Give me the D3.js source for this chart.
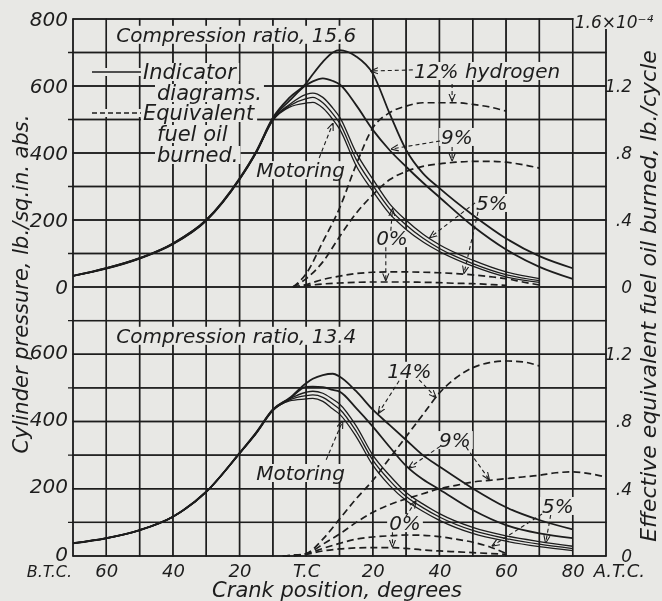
<!DOCTYPE html>
<html>
<head>
<meta charset="utf-8">
<script src="https://cdn.jsdelivr.net/npm/d3@7"></script>
<style>
  html, body { margin: 0; padding: 0; background: #e8e8e5; }
  #chart { position: relative; width: 662px; height: 601px; }
  #chart canvas, #chart svg { position: absolute; left: 0; top: 0; display: block; }
  text { font-family: "DejaVu Sans", sans-serif; font-style: italic; fill: #1d1d1d; }
</style>
</head>
<body>
<div id="chart"></div>
<script>
// crank angle, degrees (negative = before top centre)
const crankDeg = [-70,-60,-50,-40,-30,-20,-15,-10,-5,0,2,5,8,10,15,20,25,30,35,40,50,60,70,80];

// compression ratio 15.6 - indicator diagrams, lb./sq.in. abs.
const hi_motoring = [33,54,84,127,197,320,400,497,537,549,551,534,500,472,362,286,219,172,135,106,62,30,14,null];
const hi_h0  = [33,55,85,128,198,321,401,499,541,562,566,550,517,490,381,303,234,185,146,115,70,37,19,null];
const hi_h5  = [33,56,86,130,199,322,402,500,545,575,579,566,534,508,401,322,249,199,158,126,80,45,25,null];
const hi_h9  = [33,56,86,130,200,324,404,503,556,603,614,623,615,605,543,469,409,359,312,268,182,112,60,24];
const hi_h12 = [33,56,86,130,200,324,405,505,565,608,635,672,700,707,688,637,519,409,340,295,215,145,92,56];

// compression ratio 13.4 - indicator diagrams
const lo_motoring = [37,52,76,116,190,304,364,432,461,467,469,460,437,422,355,270,210,165,133,106,67,44,28,16];
const lo_h0  = [38,53,77,117,191,305,365,433,464,477,479,472,452,437,371,285,225,177,144,116,76,52,35,22];
const lo_h5  = [38,53,77,117,191,306,366,434,467,487,490,484,466,452,387,300,240,189,155,126,85,60,43,29];
const lo_h9  = [38,53,77,117,191,306,367,435,468,503,504,502,494,489,440,385,325,268,228,198,137,92,67,53];
const lo_h14 = [38,53,77,117,191,306,367,436,470,514,527,538,542,534,490,435,390,345,300,266,201,145,107,79];

// equivalent fuel oil burned, 10^-4 lb./cycle
const fuelDeg = [-7,-4,0,5,10,15,20,25,30,35,40,45,50,55,60,65,70,75,80,85,90];
const hiFuel_h0  = [null,0,0.008,0.018,0.024,0.028,0.03,0.03,0.03,0.028,0.026,0.022,0.02,0.015,0.01,null,null,null,null,null,null];
const hiFuel_h5  = [null,0,0.015,0.045,0.065,0.08,0.088,0.09,0.09,0.088,0.085,0.08,0.072,0.062,0.05,0.03,0.012,null,null,null,null];
const hiFuel_h9  = [null,0,0.05,0.15,0.30,0.44,0.55,0.64,0.69,0.72,0.735,0.745,0.75,0.75,0.745,0.73,0.71,null,null,null,null];
const hiFuel_h12 = [null,0,0.08,0.27,0.47,0.73,0.95,1.04,1.08,1.10,1.10,1.10,1.09,1.075,1.05,null,null,null,null,null,null];

const loFuel_h0  = [0,0.003,0.01,0.03,0.042,0.048,0.05,0.05,0.045,0.036,0.03,0.025,0.02,0.015,0.01,null,null,null,null,null,null];
const loFuel_h5  = [0,0.003,0.012,0.045,0.075,0.1,0.113,0.12,0.125,0.123,0.115,0.1,0.082,0.055,0.015,null,null,null,null,null,null];
const loFuel_h9  = [0,0.003,0.012,0.07,0.13,0.2,0.26,0.305,0.34,0.37,0.40,0.42,0.44,0.45,0.46,0.47,0.48,0.495,0.50,0.49,0.47];
const loFuel_h14 = [0,0.003,0.015,0.1,0.22,0.34,0.45,0.58,0.71,0.84,0.97,1.06,1.12,1.15,1.16,1.155,1.13,null,null,null,null];

// tick labels
const xTickVals = [-60,-40,-20,0,20,40,60,80];
const xTickLabels = ["60","40","20","T.C","20","40","60","80"];
const xEndLabels = ["B.T.C.","A.T.C."];
const pressTicks = [0,200,400,600,800];
const pressTicksLow = [0,200,400,600];
const fuelTicks = [0,0.4,0.8,1.2];
const fuelTickLabels = ["0",".4",".8","1.2"];
const fuelTopLabel = "1.6×10⁻⁴";

const W = 662, H = 601;
const ink = "#1d1d1d", paper = "#e8e8e5";

const x = d3.scaleLinear().domain([-70, 90]).range([73, 606]);
const yHi = d3.scaleLinear().domain([0, 800]).range([287, 19]);
const yLo = d3.scaleLinear().domain([0, 800]).range([556, 287]);
const fHi = d3.scaleLinear().domain([0, 1.6]).range([287, 19]);
const fLo = d3.scaleLinear().domain([0, 1.6]).range([556, 287]);

const plotTop = yHi(800), plotBottom = yLo(0), plotLeft = x(-70), plotRight = x(90);
const gridDeg = d3.range(-70, 91, 10);
const gridHi = d3.range(0, 801, 100);
const gridLo = d3.range(0, 701, 100);
const tickOnly = [100, 300, 500, 700];

// paper and grid on a canvas underneath the svg
const canvas = d3.select("#chart").append("canvas")
    .attr("width", W).attr("height", H);
const ctx = canvas.node().getContext("2d");
ctx.fillStyle = paper;
ctx.fillRect(0, 0, W, H);
ctx.strokeStyle = ink;
ctx.lineWidth = 1.4;
ctx.beginPath();
gridDeg.forEach(function(d) {
    ctx.moveTo(x(d), plotTop);
    ctx.lineTo(x(d), plotBottom);
});
gridHi.forEach(function(v) {
    ctx.moveTo(plotLeft, yHi(v));
    ctx.lineTo(plotRight, yHi(v));
});
gridLo.forEach(function(v) {
    ctx.moveTo(plotLeft, yLo(v));
    ctx.lineTo(plotRight, yLo(v));
});
[yHi, yLo].forEach(function(ys) {
    tickOnly.forEach(function(v) {
        ctx.moveTo(plotLeft - 5, ys(v));
        ctx.lineTo(plotLeft, ys(v));
    });
});
ctx.stroke();

const svg = d3.select("#chart").append("svg")
    .attr("width", W)
    .attr("height", H);

const defs = svg.append("defs");
defs.append("marker")
    .attr("id", "arrow")
    .attr("viewBox", "0 0 10 10")
    .attr("refX", 9).attr("refY", 5)
    .attr("markerWidth", 7).attr("markerHeight", 7)
    .attr("orient", "auto")
    .append("path")
    .attr("d", "M0,1 L10,5 L0,9")
    .attr("fill", "none")
    .attr("stroke", ink)
    .attr("stroke-width", 1.4);

// grid again in the svg, as thin rects
const gw = 1.4;
const gridLayer = svg.append("g");
gridLayer.selectAll(null)
    .data(gridDeg)
    .enter().append("rect")
    .attr("x", d => x(d) - gw / 2).attr("y", plotTop - gw / 2)
    .attr("width", gw).attr("height", plotBottom - plotTop + gw)
    .attr("fill", ink);
gridLayer.selectAll(null)
    .data(gridHi.map(v => yHi(v)).concat(gridLo.map(v => yLo(v))))
    .enter().append("rect")
    .attr("x", plotLeft - gw / 2).attr("y", d => d - gw / 2)
    .attr("width", plotRight - plotLeft + gw).attr("height", gw)
    .attr("fill", ink);

const bgLayer = svg.append("g");
const curveLayer = svg.append("g");
const textLayer = svg.append("g");
const axisLayer = svg.append("g");

// curves
function drawSeries(deg, vals, ys, dashed, w) {
    let pts = deg.map((d, i) => [d, vals[i]]);
    let line = d3.line()
        .defined(d => d[1] != null)
        .x(d => x(d[0]))
        .y(d => ys(d[1]))
        .curve(d3.curveMonotoneX);
    curveLayer.append("path")
        .attr("d", line(pts))
        .attr("fill", "none")
        .attr("stroke", ink)
        .attr("stroke-width", w)
        .attr("stroke-dasharray", dashed ? "7,4" : null);
}

[hi_motoring, hi_h0, hi_h5].forEach(v => drawSeries(crankDeg, v, yHi, false, 1.3));
[hi_h9, hi_h12].forEach(v => drawSeries(crankDeg, v, yHi, false, 1.8));
[lo_motoring, lo_h0, lo_h5].forEach(v => drawSeries(crankDeg, v, yLo, false, 1.3));
[lo_h9, lo_h14].forEach(v => drawSeries(crankDeg, v, yLo, false, 1.8));
[hiFuel_h0, hiFuel_h5, hiFuel_h9, hiFuel_h12].forEach(v => drawSeries(fuelDeg, v, fHi, true, 1.7));
[loFuel_h0, loFuel_h5, loFuel_h9, loFuel_h14].forEach(v => drawSeries(fuelDeg, v, fLo, true, 1.7));

function addText(layer, str, px, py, size, anchor, pad) {
    let t = layer.append("text")
        .attr("x", px).attr("y", py)
        .attr("font-size", size)
        .attr("text-anchor", anchor || "start")
        .text(str);
    if (pad != null) {
        let b = t.node().getBBox();
        bgLayer.append("rect")
            .attr("x", b.x - pad).attr("y", b.y + 3)
            .attr("width", b.width + 2 * pad).attr("height", Math.max(0, b.height - 6))
            .attr("fill", paper);
    }
    return t;
}

// axes
function styleAxis(g) {
    g.select(".domain").remove();
    g.attr("font-family", null).attr("font-size", null);
    g.selectAll("text").attr("fill", ink);
}

axisLayer.append("g")
    .attr("transform", "translate(" + plotLeft + ",0)")
    .call(d3.axisLeft(yHi).tickValues(pressTicks).tickSize(0).tickPadding(5))
    .call(styleAxis)
    .selectAll("text").attr("font-size", 20);
axisLayer.append("g")
    .attr("transform", "translate(" + plotLeft + ",0)")
    .call(d3.axisLeft(yLo).tickValues(pressTicksLow).tickSize(0).tickPadding(5))
    .call(styleAxis)
    .selectAll("text").attr("font-size", 20).attr("dy", "0.2em");

[fHi, fLo].forEach(function(fs) {
    axisLayer.append("g")
        .attr("transform", "translate(" + plotRight + ",0)")
        .call(d3.axisRight(fs).tickValues(fuelTicks)
            .tickFormat((d, i) => fuelTickLabels[i]).tickSize(0).tickPadding(26))
        .call(styleAxis)
        .selectAll("text").attr("font-size", 17).attr("text-anchor", "end");
});
addText(textLayer, fuelTopLabel, x(80) + 2, plotTop + 9, 17, "start", 1);

axisLayer.append("g")
    .attr("transform", "translate(0," + plotBottom + ")")
    .call(d3.axisBottom(x).tickValues(xTickVals)
        .tickFormat((d, i) => xTickLabels[i]).tickSize(0).tickPadding(8))
    .call(styleAxis)
    .selectAll("text").attr("font-size", 18);
addText(textLayer, xEndLabels[0], plotLeft - 1, plotBottom + 21, 16, "end");
addText(textLayer, xEndLabels[1], x(80) + 21, plotBottom + 21, 18, "start");

// axis titles
textLayer.append("text")
    .attr("transform", "translate(28,284) rotate(-90)")
    .attr("text-anchor", "middle").attr("font-size", 21)
    .text("Cylinder pressure, lb./sq.in. abs.");
textLayer.append("text")
    .attr("transform", "translate(656,296) rotate(-90)")
    .attr("text-anchor", "middle").attr("font-size", 22)
    .text("Effective equivalent fuel oil burned, lb./cycle");
textLayer.append("text")
    .attr("x", 337).attr("y", 597)
    .attr("text-anchor", "middle").attr("font-size", 21)
    .text("Crank position, degrees");

// legend
const legendRows = [
    { dash: null, lines: ["Indicator", "diagrams."], y: 72 },
    { dash: "5,3", lines: ["Equivalent", "fuel oil", "burned."], y: 113 }
];
legendRows.forEach(function(r) {
    bgLayer.append("rect")
        .attr("x", 90).attr("y", r.y - 4).attr("width", 54).attr("height", 8)
        .attr("fill", paper);
    textLayer.append("line")
        .attr("x1", 92).attr("x2", 141).attr("y1", r.y).attr("y2", r.y)
        .attr("stroke", ink)
        .attr("stroke-width", 1.6)
        .attr("stroke-dasharray", r.dash);
    r.lines.forEach(function(s, i) {
        addText(textLayer, s, i === 0 ? 143 : 157, r.y + 7 + i * 21, 21, "start", 2);
    });
});

// labels, in data coordinates of their panel
const labels = [
    { ys: yHi, t: "Compression ratio, 15.6", d: -57, v: 732 },
    { ys: yHi, t: "12% hydrogen", d: 32.4, v: 624 },
    { ys: yHi, t: "9%", d: 40.5, v: 427 },
    { ys: yHi, t: "5%", d: 51, v: 230 },
    { ys: yHi, t: "0%", d: 21, v: 125 },
    { ys: yHi, t: "Motoring", d: -15, v: 328 },
    { ys: yLo, t: "Compression ratio, 13.4", d: -57, v: 634 },
    { ys: yLo, t: "14%", d: 24.3, v: 530 },
    { ys: yLo, t: "9%", d: 39.9, v: 324 },
    { ys: yLo, t: "5%", d: 70.8, v: 128 },
    { ys: yLo, t: "0%", d: 24.9, v: 77 },
    { ys: yLo, t: "Motoring", d: -15, v: 226 }
];
labels.forEach(l => addText(textLayer, l.t, x(l.d), l.ys(l.v), 20, "start", 2));

// leader arrows: [from deg, from psi, to deg, to psi]
const arrowsHi = [
    [32, 648, 19.5, 645], [43.8, 606, 43.8, 556],
    [40.2, 436, 25.6, 412], [43.8, 418, 43.8, 378],
    [50.7, 251, 37.2, 148], [51.6, 224, 47.4, 42],
    [25.4, 168, 25.9, 232], [23.9, 119, 23.9, 20],
    [3.9, 385, 8, 488]
];
const arrowsLo = [
    [27.9, 521, 21.7, 425], [33.9, 524, 38.9, 472],
    [40.2, 326, 30.8, 262], [48, 324, 54.9, 228],
    [70.8, 125, 55.9, 30], [73.4, 122, 71.9, 40],
    [29.9, 117, 32.9, 163], [25.9, 71, 25.9, 28],
    [6, 286, 10.9, 400]
];
[[arrowsHi, yHi], [arrowsLo, yLo]].forEach(function(p) {
    textLayer.selectAll(null)
        .data(p[0])
        .enter().append("line")
        .attr("x1", d => x(d[0])).attr("y1", d => p[1](d[1]))
        .attr("x2", d => x(d[2])).attr("y2", d => p[1](d[3]))
        .attr("stroke", ink).attr("stroke-width", 1.1)
        .attr("stroke-dasharray", "4,3")
        .attr("marker-end", "url(#arrow)");
});
</script>
</body>
</html>
